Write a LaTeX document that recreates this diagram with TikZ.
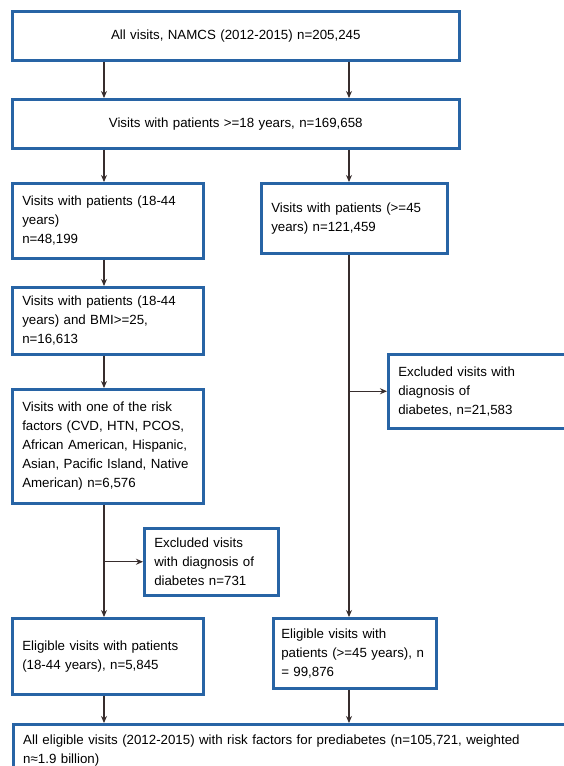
\documentclass[tikz,border=0pt]{standalone}
\usepackage{fontspec}
\setmainfont{Liberation Sans}
\usetikzlibrary{arrows.meta,calc}
\definecolor{boxblue}{RGB}{40,100,165}
\definecolor{arrowgray}{RGB}{55,45,45}
\tikzset{
  flowbox/.style={draw=boxblue,line width=2.5pt,anchor=north west,inner xsep=10pt,inner ysep=0pt,align=left,font=\fontsize{13.3}{19}\selectfont},
  flowarrow/.style={draw=arrowgray,line width=1.2pt,-{Stealth[length=7pt,width=6pt]}}
}

\begin{document}
\begin{tikzpicture}[x=1pt,y=-1pt]
\useasboundingbox (0,0) rectangle (564,766);
\clip (0,0) rectangle (564,766);
%\draw[very thin,color=gray,step=50] (0,0) grid (564,766);
\coordinate (lx) at (104,0);
\coordinate (rx) at (349,0);
\node[flowbox,align=center,text width=427pt,minimum height=49pt] (all) at (11,10) {All visits, NAMCS (2012-2015) n=205,245};
\node[flowbox,align=center,text width=427pt,minimum height=49pt] (adult) at (11,98) {Visits with patients >=18 years, n=169,658};
\node[flowbox,text width=171pt,minimum height=75pt] (young) at (11,182) {Visits with patients (18-44\\years)\\n=48,199};
\node[flowbox,text width=166pt,minimum height=70pt] (old) at (260,182) {Visits with patients (>=45\\years) n=121,459};
\node[flowbox,text width=171pt,minimum height=67pt] (bmi) at (11,286) {Visits with patients (18-44\\years) and BMI>=25,\\n=16,613};
\node[flowbox,text width=171pt,minimum height=114pt] (risk) at (11,388) {Visits with one of the risk\\factors (CVD, HTN, PCOS,\\African American, Hispanic,\\Asian, Pacific Island, Native\\American) n=6,576};
\node[flowbox,text width=170pt,minimum height=74pt] (exold) at (387,353) {Excluded visits with\\diagnosis of\\diabetes, n=21,583};
\node[flowbox,text width=114pt,minimum height=67pt] (exyoung) at (143,527) {Excluded visits\\with diagnosis of\\diabetes n=731};
\node[flowbox,text width=171pt,minimum height=76pt] (eligy) at (11,617) {Eligible visits with patients\\(18-44 years), n=5,845};
\node[flowbox,inner xsep=8pt,text width=147pt,minimum height=70pt] (eligo) at (272,617) {Eligible visits with\\patients (>=45 years), n\\= 99,876};
\node[flowbox,text width=540pt,minimum height=52pt] (final) at (12,723) {All eligible visits (2012-2015) with risk factors for prediabetes (n=105,721, weighted\\n≈1.9 billion)};
% left branch
\draw[flowarrow] (all.south -| lx) -- (adult.north -| lx);
\draw[flowarrow] (adult.south -| lx) -- (young.north -| lx);
\draw[flowarrow] (young.south -| lx) -- (bmi.north -| lx);
\draw[flowarrow] (bmi.south -| lx) -- (risk.north -| lx);
\draw[flowarrow] (risk.south -| lx) -- (eligy.north -| lx);
\draw[flowarrow] (exyoung.west -| lx) -- (exyoung.west);
\draw[flowarrow] (eligy.south -| lx) -- (final.north -| lx);
% right branch
\draw[flowarrow] (all.south -| rx) -- (adult.north -| rx);
\draw[flowarrow] (adult.south -| rx) -- (old.north -| rx);
\draw[flowarrow] (old.south -| rx) -- (eligo.north -| rx);
\draw[flowarrow] (exold.west -| rx) -- (exold.west);
\draw[flowarrow] (eligo.south -| rx) -- (final.north -| rx);
\end{tikzpicture}
\end{document}
